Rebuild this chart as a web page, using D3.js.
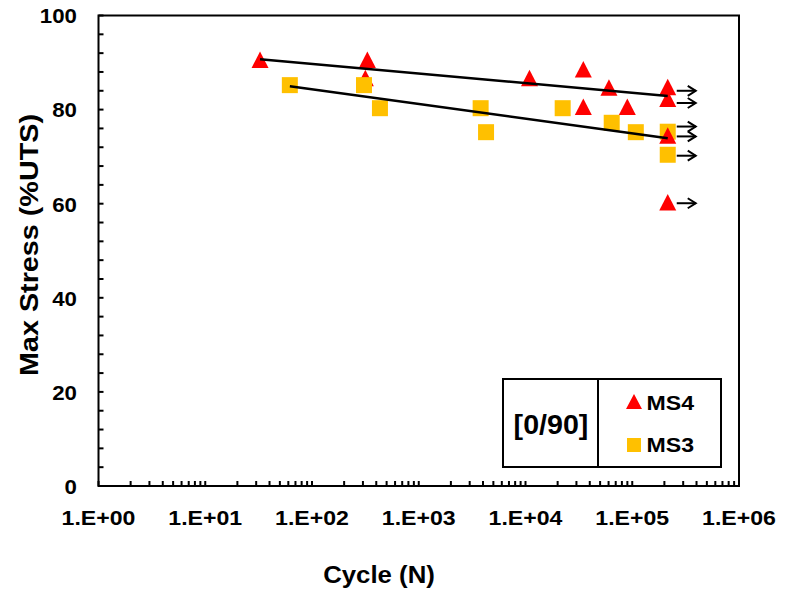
<!DOCTYPE html>
<html>
<head>
<meta charset="utf-8">
<script src="https://cdn.jsdelivr.net/npm/d3@7"></script>
<style>
  html, body { margin: 0; padding: 0; background: #fff; }
  svg text { font-family: "Liberation Sans", Arial, sans-serif; font-weight: bold; fill: #000; }
</style>
</head>
<body>
<svg id="chart" width="787" height="598"></svg>
<script>
// S-N data for [0/90] laminates: cycles to failure and max stress (%UTS)
const ms4Cycles = [32.6, 330, 316, 10900, 34800, 34800, 60500, 89900, 215000, 215000, 215000, 215000];
const ms4Stress = [90.6, 90.6, 86.7, 86.7, 88.6, 80.6, 84.7, 80.6, 84.8, 82.3, 74.5, 60.3];
const ms4Runout = [false, false, false, false, false, false, false, false, true, true, true, true];

const ms3Cycles = [62, 307, 433, 3800, 4270, 22300, 64200, 108000, 215000, 215000];
const ms3Stress = [85.2, 85.2, 80.3, 80.3, 75.2, 80.3, 77.2, 75.2, 75.3, 70.4];

// run-out arrows (specimens that did not fail)
const runoutCycles = [215000, 215000, 215000, 215000, 215000, 215000];
const runoutStress = [84.0, 81.4, 76.4, 74.3, 70.2, 60.1];

// log-linear trend lines: stress = a + b * log10(N)
const trendA = [93.79, 90.58];
const trendB = [-2.04, -3.126];

const xTickValues = [1, 10, 100, 1000, 10000, 100000, 1000000];
const xTickLabels = ["1.E+00", "1.E+01", "1.E+02", "1.E+03", "1.E+04", "1.E+05", "1.E+06"];
const yTickValues = [0, 20, 40, 60, 80, 100];

const svg = d3.select("#chart");
const pLeft = 98.5, pRight = 739, pTop = 15.5, pBottom = 486;

const x = d3.scaleLog().domain([1, 1e6]).range([pLeft, pRight]);
const y = d3.scaleLinear().domain([0, 100]).range([pBottom, pTop]);

const red = "#FF0000", gold = "#FFC000";

// widen glyphs slightly along the text direction
function widen(sel, f) {
  sel.each(function () {
    const w = this.getComputedTextLength();
    d3.select(this).attr("textLength", w * f).attr("lengthAdjust", "spacingAndGlyphs");
  });
  return sel;
}

// triangle marker centred on its bounding box
function triPath(w, h) {
  return `M0,${-h / 2}L${w / 2},${h / 2}L${-w / 2},${h / 2}Z`;
}
function sqPath(s) {
  return `M${-s / 2},${-s / 2}h${s}v${s}h${-s}Z`;
}

// minor ticks (inward)
const xMinor = [];
for (let e = 0; e < 6; e++) for (let k = 2; k <= 9; k++) xMinor.push(k * Math.pow(10, e));
const yMinor = d3.range(0, 101, 4).filter(v => v % 20 !== 0);

const gt = svg.append("g");
gt.selectAll("line.xt").data(xMinor.concat(xTickValues)).join("line")
  .attr("x1", d => x(d)).attr("x2", d => x(d))
  .attr("y1", pBottom).attr("y2", pBottom - 5)
  .attr("stroke", "#000").attr("stroke-width", 2);
gt.selectAll("line.yt").data(yMinor.concat(yTickValues)).join("line")
  .attr("x1", pLeft).attr("x2", pLeft + 5)
  .attr("y1", d => y(d)).attr("y2", d => y(d))
  .attr("stroke", "#000").attr("stroke-width", 2);

// frame
svg.append("rect").attr("x", pLeft).attr("y", pTop)
  .attr("width", pRight - pLeft).attr("height", pBottom - pTop)
  .attr("fill", "none").attr("stroke", "#000").attr("stroke-width", 2);

// tick labels
widen(svg.selectAll("text.xl").data(xTickValues).join("text")
  .attr("x", d => x(d)).attr("y", 525)
  .attr("text-anchor", "middle").attr("font-size", 21)
  .text((d, i) => xTickLabels[i]), 1.1);
widen(svg.selectAll("text.yl").data(yTickValues).join("text")
  .attr("x", 77).attr("y", d => y(d) + 7.8)
  .attr("text-anchor", "end").attr("font-size", 21)
  .text(d => d), 1.06);

// axis titles
widen(svg.append("text").attr("x", 379).attr("y", 583)
  .attr("text-anchor", "middle").attr("font-size", 23).text("Cycle (N)"), 1.12);
widen(svg.append("text").attr("transform", "translate(38,245) rotate(-90)")
  .attr("text-anchor", "middle").attr("font-size", 25).text("Max Stress (%UTS)"), 1.15);

const ms4 = ms4Cycles.map((c, i) => ({ c, s: ms4Stress[i], r: ms4Runout[i] }));
const ms3 = ms3Cycles.map((c, i) => ({ c, s: ms3Stress[i] }));

function drawTri(data) {
  svg.append("g").selectAll("path").data(data).join("path")
    .attr("d", triPath(17, 16.5))
    .attr("transform", d => `translate(${x(d.c)},${y(d.s)})`)
    .attr("fill", red);
}
drawTri(ms4.filter(d => !d.r));
svg.append("g").selectAll("path").data(ms3).join("path")
  .attr("d", sqPath(16))
  .attr("transform", d => `translate(${x(d.c)},${y(d.s)})`)
  .attr("fill", gold);
drawTri(ms4.filter(d => d.r));

// trend lines across each series' cycle range
[ms4, ms3].forEach((series, k) => {
  const ext = d3.extent(series, d => d.c);
  svg.append("line")
    .attr("x1", x(ext[0])).attr("y1", y(trendA[k] + trendB[k] * Math.log10(ext[0])))
    .attr("x2", x(ext[1])).attr("y2", y(trendA[k] + trendB[k] * Math.log10(ext[1])))
    .attr("stroke", "#000").attr("stroke-width", 2.5);
});

// run-out arrows
const ar = svg.append("g").attr("stroke", "#000").attr("stroke-width", 2).attr("fill", "none");
runoutCycles.forEach((c, i) => {
  const x0 = x(c) + 9, x1 = x0 + 19, yy = y(runoutStress[i]);
  ar.append("line").attr("x1", x0).attr("x2", x1).attr("y1", yy).attr("y2", yy);
  ar.append("path").attr("d", `M${x1 - 8},${yy - 5}L${x1},${yy}L${x1 - 8},${yy + 5}`);
});

// legend
const lg = svg.append("g");
lg.append("rect").attr("x", 503).attr("y", 379).attr("width", 218).attr("height", 88)
  .attr("fill", "#fff").attr("stroke", "#000").attr("stroke-width", 2);
lg.append("line").attr("x1", 598).attr("x2", 598).attr("y1", 379).attr("y2", 467)
  .attr("stroke", "#000").attr("stroke-width", 2);
widen(lg.append("text").attr("x", 551).attr("y", 434).attr("text-anchor", "middle")
  .attr("font-size", 27).text("[0/90]"), 1.06);
lg.append("path").attr("d", triPath(16, 15)).attr("transform", "translate(634,401.5)").attr("fill", red);
widen(lg.append("text").attr("x", 646.5).attr("y", 409.5).attr("font-size", 21).text("MS4"), 1.1);
lg.append("path").attr("d", sqPath(14)).attr("transform", "translate(634,445)").attr("fill", gold);
widen(lg.append("text").attr("x", 646.5).attr("y", 452).attr("font-size", 21).text("MS3"), 1.1);
</script>
</body>
</html>
